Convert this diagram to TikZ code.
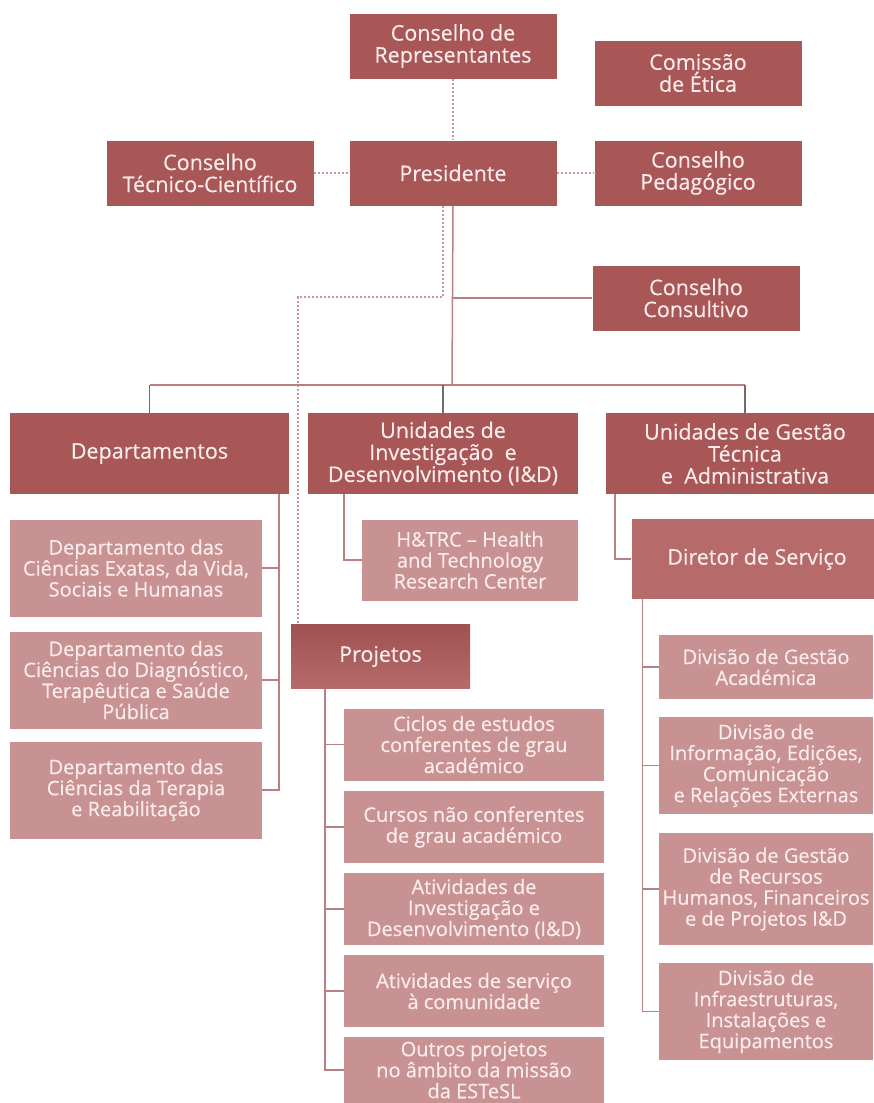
\documentclass[tikz,border=0pt]{standalone}
\usepackage{fontspec}
\setmainfont{Open Sans}[FakeBold=0.4]
\usepackage{tikz}
\usetikzlibrary{arrows,shapes}
\definecolor{boxdark}{RGB}{168,86,86}
\definecolor{boxmid}{RGB}{182,106,106}
\definecolor{boxlight}{RGB}{201,146,146}
\definecolor{boxtext}{RGB}{250,236,236}
\definecolor{linecol}{RGB}{184,128,128}
\definecolor{dropcol}{RGB}{120,104,104}
\definecolor{dotcol}{RGB}{204,148,148}
\newcommand{\boxfont}{\fontsize{20}{21}\selectfont}
\newcommand{\headfont}{\fontsize{21.5}{22}\selectfont}
\tikzstyle{unit}=[rectangle,inner sep=2pt,align=center,text=boxtext,font=\boxfont]
\tikzstyle{darkbox}=[unit,fill=boxdark,font=\headfont]
\tikzstyle{midbox}=[unit,fill=boxmid]
\tikzstyle{lightbox}=[unit,fill=boxlight]
\tikzstyle{edge} = [draw,line width=1.5pt,linecol]
\tikzstyle{dotline} = [draw,dotted,line width=2pt,dotcol]

\begin{document}
\begin{tikzpicture}[x=1pt,y=-1pt]
    \useasboundingbox (0,0) rectangle (873,1103);
    % Councils round the president
    \foreach \pos/\name/\txt in {{(453,46)/rep/{Conselho de\\Representantes}},
        {(698,73)/etica/{Comissão\\de Ética}}, {(210,173)/ctc/{Conselho\\Técnico-Científico}},
        {(453,173)/pres/{Presidente}}, {(698,173)/cped/{Conselho\\Pedagógico}},
        {(696,298)/ccons/{Conselho\\Consultivo}}}
        \node[darkbox,minimum width=207pt,minimum height=65pt] (\name) at \pos {\txt};
    % Second level
    \node[darkbox,minimum width=279pt,minimum height=81pt] (depts) at (149.5,453.5) {Departamentos};
    \node[darkbox,minimum width=270pt,minimum height=81pt] (uid) at (443,453.5) {Unidades de\\Investigação~ e\\Desenvolvimento (I\&D)};
    \node[darkbox,minimum width=278pt,minimum height=81pt] (ugta) at (745,453.5) {Unidades de Gestão\\Técnica\\e~ Administrativa};
    % Departments
    \foreach \pos/\name/\txt in {{(136,568)/dexa/{Departamento das\\Ciências Exatas, da Vida,\\Sociais e Humanas}},
        {(136,680)/ddia/{Departamento das\\Ciências do Diagnóstico,\\Terapêutica e Saúde\\Pública}},
        {(136,790)/dter/{Departamento das\\Ciências da Terapia\\e Reabilitação}}}
        \node[lightbox,minimum width=252pt,minimum height=97pt] (\name) at \pos {\txt};
    \node[lightbox,minimum width=216pt,minimum height=81pt] (htrc) at (470,560) {H\&TRC -- Health\\and Technology\\Research Center};
    \node[midbox,minimum width=251pt,minimum height=80pt,font=\headfont] (dir) at (757,559) {Diretor de Serviço};
    \node[unit,top color=boxdark!95!black,bottom color=boxmid,minimum width=179pt,minimum height=64pt,font=\headfont] (proj) at (380.5,656.5) {Projetos};
    % Projects
    \foreach \pos/\hgt/\name/\txt in {{(474,744.5)/72/pcic/{Ciclos de estudos\\conferentes de grau\\académico}},
        {(474,827)/72/pcur/{Cursos não conferentes\\de grau académico}},
        {(474,909)/72/pinv/{Atividades de\\Investigação e\\Desenvolvimento (I\&D)}},
        {(474,991)/72/pser/{Atividades de serviço\\à comunidade}},
        {(474,1070)/66/pout/{Outros projetos\\no âmbito da missão\\da ESTeSL}}}
        \node[lightbox,minimum width=260pt,minimum height=\hgt pt] (\name) at \pos {\txt};
    % Divisions
    \foreach \pos/\hgt/\name/\txt in {{(766,667)/64/vaca/{Divisão de Gestão\\Académica}},
        {(766,765.5)/97/vinf/{Divisão de\\Informação, Edições,\\Comunicação\\e Relações Externas}},
        {(766,889)/112/vrec/{Divisão de Gestão\\de Recursos\\Humanos, Financeiros\\e de Projetos I\&D}},
        {(766,1011.5)/97/vequ/{Divisão de\\Infraestruturas,\\Instalações e\\Equipamentos}}}
        \node[lightbox,minimum width=214pt,minimum height=\hgt pt] (\name) at \pos {\txt};
    % Dotted links
    \path[dotline] (rep) -- (pres);
    \path[dotline] (ctc) -- (pres);
    \path[dotline] (pres) -- (cped);
    \coordinate (pbend) at (298,297);
    \path[dotline] ([xshift=-10pt]pres.south) |- (pbend) -- (pbend |- proj.north);
    % Solid links
    \coordinate (bus) at (452,385);
    \path[edge] (pres.south) -- (bus);
    \path[edge] (pres.south |- ccons.west) -- (ccons.west);
    \path[edge] (depts.north |- bus) -- (ugta.north |- bus);
    \foreach \dest in {depts,uid,ugta}
        \path[edge,dropcol,line width=1.2pt] (\dest.north |- bus) -- (\dest.north);
    \foreach \dest in {dexa,ddia,dter}
        \path[edge] ([xshift=-10pt]depts.south east) |- (\dest.east);
    \path[edge] ([xshift=36pt]uid.south west) |- (htrc.west);
    \path[edge] ([xshift=9pt]ugta.south west) |- (dir.west);
    \foreach \dest in {pcic,pcur,pinv,pser,pout}
        \path[edge] ([xshift=34pt]proj.south west) |- (\dest.west);
    \foreach \dest in {vaca,vinf,vrec,vequ}
        \path[edge] ([xshift=11pt]dir.south west) |- (\dest.west);
\end{tikzpicture}
\end{document}
